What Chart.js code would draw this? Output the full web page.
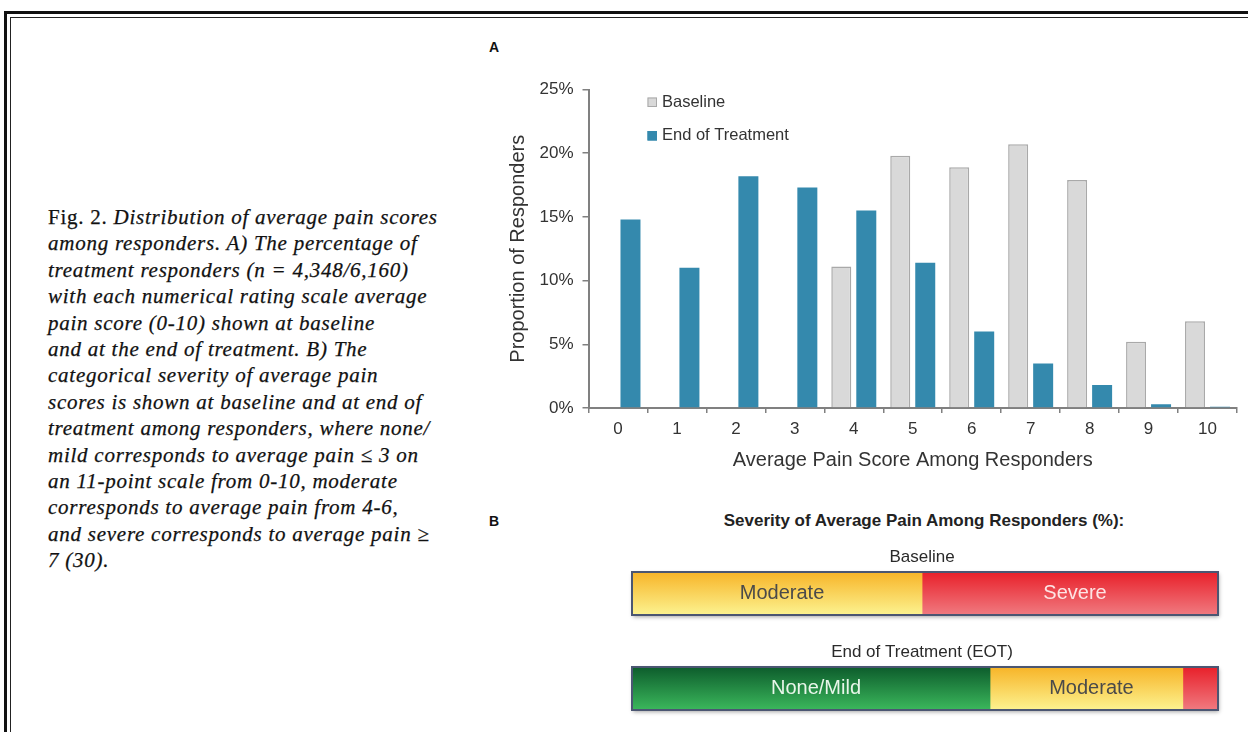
<!DOCTYPE html>
<html><head><meta charset="utf-8">
<script src="https://cdn.jsdelivr.net/npm/chart.js@4.4.0/dist/chart.umd.min.js"></script>
<style>
html,body{margin:0;padding:0;background:#fff;width:1248px;height:732px;overflow:hidden;position:relative;font-family:"Liberation Sans",Arial,sans-serif;}
#frameOuter{position:absolute;left:4px;top:11px;width:1400px;height:900px;border-left:3px solid #111;border-top:3px solid #111;}
#frameInner{position:absolute;left:10px;top:17px;width:1400px;height:900px;border-left:1px solid #222;border-top:1px solid #222;}
#caption{position:absolute;left:48px;top:204px;font-family:"Liberation Serif","Times New Roman",serif;font-size:21px;line-height:26.4px;color:#111;font-style:italic;letter-spacing:0.75px;white-space:nowrap;-webkit-text-stroke:0.25px #111;}
#caption .up{font-style:normal;}
.panel{position:absolute;font-weight:bold;font-size:14px;color:#111;}
#wrapA{position:absolute;left:480px;top:70px;width:768px;height:410px;}
#wrapB{position:absolute;left:620px;top:500px;width:610px;height:240px;}
#titleB{position:absolute;left:600px;width:648px;top:511px;text-align:center;font-weight:bold;font-size:17px;color:#222;}
</style>
</head><body>
<div id="frameOuter"></div><div id="frameInner"></div>
<div id="caption"><span class="up">Fig. 2.</span> Distribution of average pain scores<br>among responders. A) The percentage of<br>treatment responders (n = 4,348/6,160)<br>with each numerical rating scale average<br>pain score (0-10) shown at baseline<br>and at the end of treatment. B) The<br>categorical severity of average pain<br>scores is shown at baseline and at end of<br>treatment among responders, where none/<br>mild corresponds to average pain ≤ 3 on<br>an 11-point scale from 0-10, moderate<br>corresponds to average pain from 4-6,<br>and severe corresponds to average pain ≥<br>7 (30).</div>
<div class="panel" style="left:489px;top:39px;">A</div>
<div class="panel" style="left:489px;top:513px;">B</div>
<div id="wrapA"><canvas id="chartA" width="768" height="410"></canvas></div>
<div id="titleB">Severity of Average Pain Among Responders (%):</div>
<div id="wrapB"><canvas id="chartB" width="610" height="240"></canvas></div>
<script>
// ---- Panel A data ----
const painScores = ['0','1','2','3','4','5','6','7','8','9','10'];
const baselinePct = [0, 0, 0, 0, 11.1, 19.8, 18.9, 20.7, 17.9, 5.2, 6.8];
const eotPct = [14.8, 11.0, 18.2, 17.3, 15.5, 11.4, 6.0, 3.5, 1.8, 0.3, 0.1];
const seriesNames = ['Baseline', 'End of Treatment'];
const yTickValues = [0, 5, 10, 15, 20, 25];
const xAxisTitle = 'Average Pain Score Among Responders';
const yAxisTitle = 'Proportion of Responders';

// ---- Panel B data ----
const severityRows = ['Baseline', 'End of Treatment (EOT)'];
const severityCats = ['None/Mild', 'Moderate', 'Severe'];
const baselineSeverity = [0, 49.5, 50.5];
const eotSeverity = [61.1, 32.9, 6.0];

// ---- Chart A ----
const fillA = ['#d9d9d9', '#3489ad'];
const borderA = ['#a9a9a9', '#3489ad'];
const legendPlugin = {
  id: 'insideLegend',
  afterDraw(chart) {
    const {ctx, chartArea} = chart;
    ctx.save();
    ctx.font = '16.5px "Liberation Sans", Arial, sans-serif';
    ctx.textBaseline = 'middle';
    ctx.textAlign = 'left';
    chart.data.datasets.forEach((ds, i) => {
      const cy = chartArea.top + 12.5 + i * 33.5;
      const sx = chartArea.left + 59;
      ctx.fillStyle = ds.backgroundColor;
      ctx.fillRect(sx, cy - 4.5, 9.5, 9.5);
      ctx.strokeStyle = ds.borderColor;
      ctx.lineWidth = 1;
      ctx.strokeRect(sx + 0.5, cy - 4, 8.5, 8.5);
      ctx.fillStyle = '#333';
      ctx.fillText(ds.label, sx + 14.5, cy);
    });
    ctx.restore();
  }
};
new Chart(document.getElementById('chartA'), {
  type: 'bar',
  data: {
    labels: painScores,
    datasets: [
      {label: seriesNames[0], data: baselinePct, backgroundColor: fillA[0], borderColor: borderA[0], borderWidth: 1.5, borderSkipped: 'bottom', barPercentage: 0.8, categoryPercentage: 0.848},
      {label: seriesNames[1], data: eotPct, backgroundColor: fillA[1], borderColor: borderA[1], borderWidth: 0, barPercentage: 0.8, categoryPercentage: 0.848}
    ]
  },
  options: {
    responsive: false, animation: false,
    layout: {padding: {top: 19.5, right: 11, left: 0, bottom: 0}},
    plugins: {legend: {display: false}, tooltip: {enabled: false}},
    scales: {
      x: {
        grid: {display: true, drawOnChartArea: false, drawTicks: true, tickLength: 5, color: '#808080', lineWidth: 1.5, offset: true},
        border: {display: true, color: '#808080', width: 2},
        ticks: {font: {size: 17, family: '"Liberation Sans", Arial, sans-serif'}, color: '#333', padding: 6, maxRotation: 0},
        title: {display: true, text: xAxisTitle, font: {size: 20, family: '"Liberation Sans", Arial, sans-serif'}, color: '#333', padding: {top: 0, bottom: 8}},
        afterFit: (s) => { s.height = 72; }
      },
      y: {
        min: 0, max: 25,
        afterBuildTicks: (s) => { s.ticks = yTickValues.map(v => ({value: v})); },
        ticks: {callback: v => v + '%', font: {size: 17, family: '"Liberation Sans", Arial, sans-serif'}, color: '#333', padding: 9},
        grid: {drawOnChartArea: false, tickLength: 6, color: '#808080', lineWidth: 1.5},
        border: {color: '#808080', width: 2},
        title: {display: true, text: yAxisTitle, font: {size: 20, family: '"Liberation Sans", Arial, sans-serif'}, color: '#333', padding: {top: 26, bottom: 0}},
        afterFit: (s) => { s.width = 108.5; }
      }
    }
  },
  plugins: [legendPlugin]
});

// ---- Chart B ----
const BAR_H = 43;
const gradStops = [['#0d5c2c', '#3bb85c'], ['#f7b428', '#fcf390'], ['#e8202a', '#f07a80']];
const labelColors = ['#e9f6ea', '#4a4a4a', '#fde4e4'];
function gradFor(i) {
  return (ctx) => {
    const ch = ctx.chart;
    if (!ch.chartArea) return gradStops[i][0];
    const y = ch.scales.y.getPixelForValue(ctx.dataIndex);
    const g = ch.ctx.createLinearGradient(0, y - BAR_H / 2, 0, y + BAR_H / 2);
    g.addColorStop(0, gradStops[i][0]);
    g.addColorStop(1, gradStops[i][1]);
    return g;
  };
}
const severityPlugin = {
  id: 'severityDecor',
  beforeDatasetsDraw(chart) {
    const {ctx, scales: {x, y}} = chart;
    ctx.save();
    chart.data.labels.forEach((lab, r) => {
      let total = 0;
      chart.data.datasets.forEach(ds => total += ds.data[r]);
      const yc = y.getPixelForValue(r);
      const l = x.getPixelForValue(0), rr = x.getPixelForValue(total);
      ctx.shadowColor = 'rgba(0,0,0,0.35)';
      ctx.shadowBlur = 4; ctx.shadowOffsetX = 1; ctx.shadowOffsetY = 2;
      ctx.fillStyle = '#fff';
      ctx.fillRect(l, yc - BAR_H / 2, rr - l, BAR_H);
    });
    ctx.restore();
  },
  afterDatasetsDraw(chart) {
    const {ctx, scales: {x, y}} = chart;
    ctx.save();
    chart.data.labels.forEach((lab, r) => {
      let total = 0;
      chart.data.datasets.forEach(ds => total += ds.data[r]);
      const yc = y.getPixelForValue(r);
      const l = x.getPixelForValue(0), rr = x.getPixelForValue(total);
      ctx.strokeStyle = '#4b5672';
      ctx.lineWidth = 2;
      ctx.strokeRect(l, yc - BAR_H / 2, rr - l, BAR_H);
      ctx.font = '17px "Liberation Sans", Arial, sans-serif';
      ctx.fillStyle = '#2a2a2a';
      ctx.textAlign = 'center'; ctx.textBaseline = 'middle';
      ctx.fillText(lab, (l + rr) / 2 - 3, yc - BAR_H / 2 - 15);
      chart.data.datasets.forEach((ds, i) => {
        const el = chart.getDatasetMeta(i).data[r];
        const w = Math.abs(el.x - el.base);
        if (w > 80) {
          ctx.font = '20px "Liberation Sans", Arial, sans-serif';
          ctx.fillStyle = labelColors[i];
          ctx.fillText(ds.label, (el.x + el.base) / 2 + 5, yc);
        }
      });
    });
    ctx.restore();
  }
};
new Chart(document.getElementById('chartB'), {
  type: 'bar',
  data: {
    labels: severityRows,
    datasets: severityCats.map((c, i) => ({
      label: c,
      data: [baselineSeverity[i], eotSeverity[i]],
      backgroundColor: gradFor(i),
      borderWidth: 0,
      barThickness: BAR_H
    }))
  },
  options: {
    indexAxis: 'y', responsive: false, animation: false,
    layout: {padding: {top: 46, bottom: 4, left: 12, right: 12}},
    plugins: {legend: {display: false}, tooltip: {enabled: false}},
    scales: {
      x: {stacked: true, min: 0, max: 100, display: false},
      y: {stacked: true, display: false}
    }
  },
  plugins: [severityPlugin]
});
</script>
</body></html>
